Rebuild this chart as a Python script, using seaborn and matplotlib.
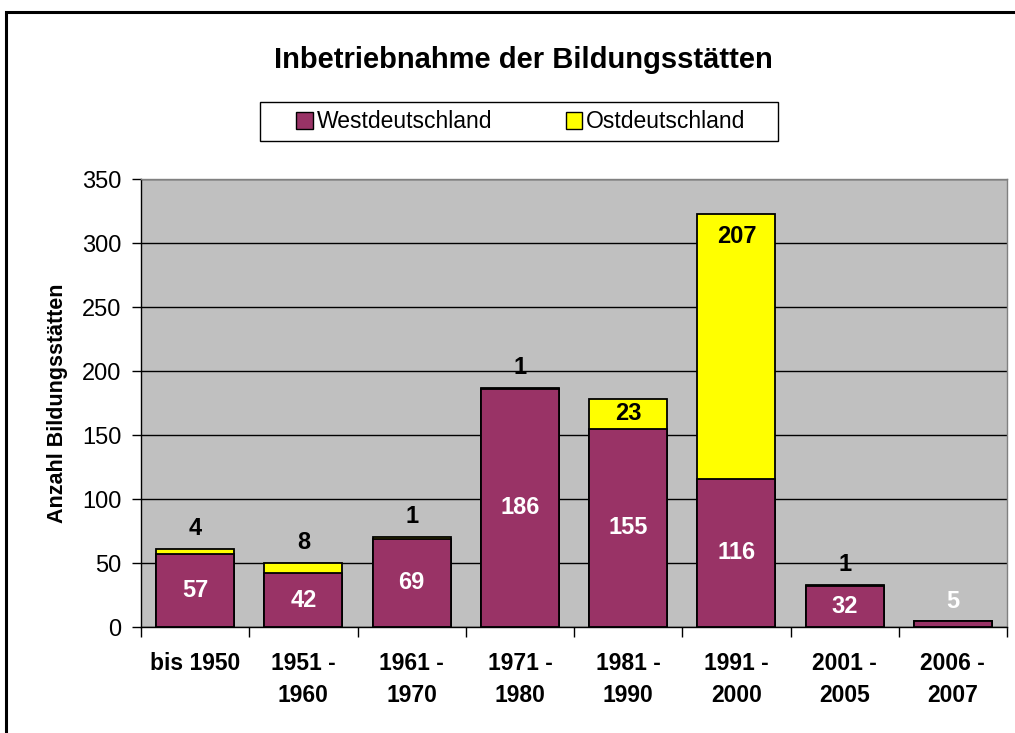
import matplotlib.pyplot as plt
from matplotlib.patches import Rectangle
import numpy as np
import seaborn as sns

zeitraum = ['bis 1950', '1951 -\n1960', '1961 -\n1970', '1971 -\n1980',
            '1981 -\n1990', '1991 -\n2000', '2001 -\n2005', '2006 -\n2007']
west = [57, 42, 69, 186, 155, 116, 32, 5]
ost = [4, 8, 1, 1, 23, 207, 1, 0]

lila = '#993366'
gelb = '#FFFF00'

sns.set_style('ticks')
plt.rcParams['font.family'] = ['Liberation Sans', 'DejaVu Sans']
plt.rcParams['text.color'] = 'black'
plt.rcParams['xtick.color'] = 'black'
plt.rcParams['ytick.color'] = 'black'
plt.rcParams['axes.labelcolor'] = 'black'

gesamt = np.array(west) + np.array(ost)

fig = plt.figure(figsize=(10.15, 7.33), dpi=100)
ax = fig.add_axes([141 / 1015, 1 - 627 / 733, 866 / 1015, 448 / 733])
ax.set_facecolor('#C0C0C0')

# gestapelt: erst Summe (gelb), dann West (lila) darueber
sns.barplot(x=zeitraum, y=gesamt, color=gelb, saturation=1, width=0.72,
            edgecolor='black', linewidth=1.3, ax=ax)
sns.barplot(x=zeitraum, y=west, color=lila, saturation=1, width=0.72,
            edgecolor='black', linewidth=1.3, ax=ax)

ax.set_ylim(0, 350)
ax.set_xlim(-0.5, len(zeitraum) - 0.5)
ax.set_yticks(range(0, 351, 50))
ax.yaxis.grid(True, color='black', linewidth=1)
ax.set_axisbelow(True)
ax.set_ylabel('')
ax.set_xlabel('')

ax.tick_params(axis='y', labelsize=17, length=6.5, width=1, pad=7.5)
ax.tick_params(axis='x', which='major', length=0, pad=18, labelsize=16.5)
ax.set_xticks(np.arange(-0.5, len(zeitraum), 1), minor=True)
ax.tick_params(axis='x', which='minor', length=7, width=1)
for lab in ax.get_xticklabels():
    lab.set_fontweight('bold')
    lab.set_verticalalignment('top')
    lab.set_linespacing(1.5)

for s in ['left', 'bottom']:
    ax.spines[s].set_color('black')
    ax.spines[s].set_linewidth(1)
for s in ['top', 'right']:
    ax.spines[s].set_color('#808080')
    ax.spines[s].set_linewidth(1)

# Beschriftungen
for i, (w, o) in enumerate(zip(west, ost)):
    if w >= 20:
        ax.text(i, w / 2, str(w), ha='center', va='center', color='white',
                fontsize=17, fontweight='bold')
    else:
        ax.text(i, w + 15, str(w), ha='center', va='center', color='white',
                fontsize=17, fontweight='bold')
    if o == 0:
        continue
    if o < 20:
        ax.text(i, w + o + 16, str(o), ha='center', va='center',
                fontsize=17, fontweight='bold')
    else:
        ax.text(i, w + o - min(o / 2, 18), str(o), ha='center', va='center',
                fontsize=17, fontweight='bold')

fig.text(58 / 1015, 1 - 403 / 733, 'Anzahl Bildungsstätten', rotation=90,
         ha='center', va='center', fontsize=15.5, fontweight='bold')
fig.text(523 / 1015, 1 - 60 / 733, 'Inbetriebnahme der Bildungsstätten',
         ha='center', va='center', fontsize=21, fontweight='bold')

# Legende mit eigenem Rahmen
fig.add_artist(Rectangle((260 / 1015, 1 - 141 / 733), 518 / 1015, 39 / 733,
                         transform=fig.transFigure, facecolor='white',
                         edgecolor='black', linewidth=1))
handles = [Rectangle((0, 0), 1, 1, facecolor=lila, edgecolor='black', lw=1),
           Rectangle((0, 0), 1, 1, facecolor=gelb, edgecolor='black', lw=1)]
leg = fig.legend(handles, ['Westdeutschland', 'Ostdeutschland'], ncol=2,
                 loc='center', bbox_to_anchor=(521 / 1015, 1 - 122 / 733),
                 fontsize=16.5, frameon=False, handlelength=0.72,
                 handleheight=0.72, handletextpad=0.18, columnspacing=3.2,
                 borderpad=0, borderaxespad=0)

fig.add_artist(Rectangle((6 / 1015, -0.05), 1.2, 1.05 - 12 / 733,
                         transform=fig.transFigure, fill=False,
                         edgecolor='black', linewidth=2.2))

fig.savefig('out.png', dpi=100)
